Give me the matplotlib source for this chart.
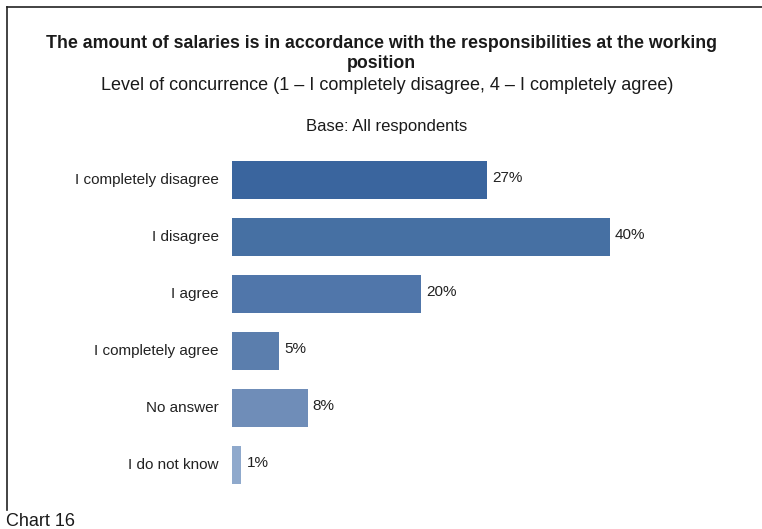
import matplotlib.pyplot as plt
from matplotlib.lines import Line2D

# Data
categories = ["I completely disagree", "I disagree", "I agree",
              "I completely agree", "No answer", "I do not know"]
values = [27, 40, 20, 5, 8, 1]
value_labels = ["27%", "40%", "20%", "5%", "8%", "1%"]
bar_colors = ["#3a659e", "#4670a3", "#5076aa", "#5b7ead", "#6f8db8", "#8fa9cc"]

plt.rcParams['font.family'] = ['Liberation Sans', 'DejaVu Sans']

W, H = 762, 529
fig = plt.figure(figsize=(W / 100, H / 100), dpi=100)
fig.patch.set_facecolor('white')

# axes placed in pixel terms: bars start at x=232, 9.45 px per percent
left, right = 232, 232 + 50 * 9.45
top, bottom = 151.5, 151.5 + 6 * 57
ax = fig.add_axes([left / W, 1 - bottom / H, (right - left) / W, (bottom - top) / H])
ax.set_xlim(0, 50)
ax.set_ylim(5.5, -0.5)
ax.axis('off')

ypos = list(range(len(categories)))
ax.barh(ypos, values, height=0.667, color=bar_colors, edgecolor='none')

for y, v, lab, cat in zip(ypos, values, value_labels, categories):
    ax.annotate(lab, (v, y), xytext=(5, 2), textcoords='offset pixels',
                ha='left', va='center', fontsize=11, color='#222222')
    ax.annotate(cat, (0, y), xytext=(-13, 0), textcoords='offset pixels',
                ha='right', va='center', fontsize=11, color='#222222')

# titles
fig.text(381 / W, 1 - 43 / H, "The amount of salaries is in accordance with the responsibilities at the working",
         ha='center', va='center', fontsize=12.8, fontweight='bold', color='#1a1a1a')
fig.text(381 / W, 1 - 63 / H, "position",
         ha='center', va='center', fontsize=12.8, fontweight='bold', color='#1a1a1a')
fig.text(387 / W, 1 - 86 / H, "Level of concurrence (1 \u2013 I completely disagree, 4 \u2013 I completely agree)",
         ha='center', va='center', fontsize=13, color='#1a1a1a')
fig.text(387 / W, 1 - 126 / H, "Base: All respondents",
         ha='center', va='center', fontsize=12, color='#1a1a1a')
fig.text(6 / W, 1 - 521 / H, "Chart 16", ha='left', va='center', fontsize=13, color='#1a1a1a')

# partial frame (top and left edges)
fig.add_artist(Line2D([6.5 / W, 1], [1 - 7 / H, 1 - 7 / H], transform=fig.transFigure,
                      color='#222222', lw=1.2))
fig.add_artist(Line2D([6.5 / W, 6.5 / W], [1 - 7 / H, 1 - 510 / H], transform=fig.transFigure,
                      color='#222222', lw=1.2))

fig.savefig("out.png", dpi=100)
